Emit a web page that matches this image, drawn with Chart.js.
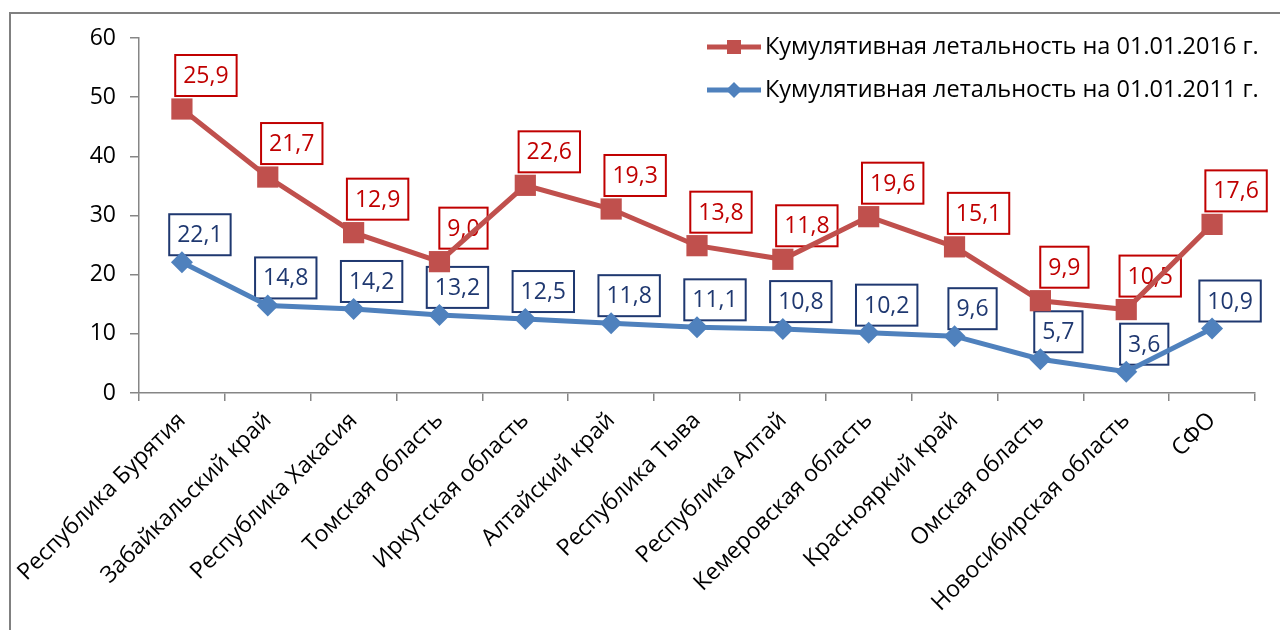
<!DOCTYPE html>
<html>
<head>
<meta charset="utf-8">
<script src="https://cdn.jsdelivr.net/npm/chart.js@4/dist/chart.umd.min.js"></script>
<style>
  body { margin: 0; background: #fff; }
  #wrap { width: 1280px; height: 630px; position: relative; }
</style>
</head>
<body>
<div id="wrap"><canvas id="chart" width="1280" height="630"></canvas></div>
<script>
// regions of the Siberian federal district (spelling as in the source)
const regions = ['Республика Бурятия', 'Забайкальский край', 'Республика Хакасия', 'Томская область',
  'Иркутская область', 'Алтайский край', 'Республика Тыва', 'Республика Алтай', 'Кемеровская область',
  'Краснояркий край', 'Омская область', 'Новосибирская область', 'СФО'];

// lethality on 01.01.2011 (bottom line)
const leth2011 = [22.1, 14.8, 14.2, 13.2, 12.5, 11.8, 11.1, 10.8, 10.2, 9.6, 5.7, 3.6, 10.9];
// increment up to 01.01.2016 (stacked on top of 2011, like the excel stacked line)
const leth2016 = [25.9, 21.7, 12.9, 9.0, 22.6, 19.3, 13.8, 11.8, 19.6, 15.1, 9.9, 10.5, 17.6];

const yTicks = [0, 10, 20, 30, 40, 50, 60];

const FONT = '"Open Sans", sans-serif';
const RED = '#C0504D', BLUE = '#4F81BD';
const RED_LBL = '#C00000', BLUE_LBL = '#1F3870';

const fmt = v => v.toFixed(1).replace('.', ',');

// boxed value labels, drawn under the lines
const boxLabels = {
    id: 'boxLabels',
    beforeDatasetsDraw(chart) {
        const ctx = chart.ctx;
        ctx.save();
        ctx.font = '23px ' + FONT;
        ctx.textAlign = 'center';
        ctx.textBaseline = 'middle';
        chart.data.datasets.forEach((ds, i) => {
            const meta = chart.getDatasetMeta(i);
            meta.data.forEach((pt, j) => {
                const txt = fmt(ds.data[j]);
                const w = ctx.measureText(txt).width + 16;
                const h = 41;
                const cx = pt.x + ds.labelDx;
                const top = pt.y - ds.labelGap - h;
                ctx.fillStyle = '#fff';
                ctx.fillRect(cx - w / 2, top, w, h);
                ctx.strokeStyle = ds.labelColor;
                ctx.lineWidth = 2;
                ctx.strokeRect(cx - w / 2, top, w, h);
                ctx.fillStyle = ds.labelColor;
                ctx.fillText(txt, cx, top + h / 2 + 1);
            });
        });
        ctx.restore();
    }
};

// frame + legend in the top right corner
const decor = {
    id: 'decor',
    beforeDraw(chart) {
        const ctx = chart.ctx;
        ctx.save();
        ctx.strokeStyle = '#808080';
        ctx.lineWidth = 2;
        ctx.beginPath();
        ctx.moveTo(10, 630);
        ctx.lineTo(10, 13);
        ctx.lineTo(1280, 13);
        ctx.stroke();
        ctx.restore();
    },
    afterDraw(chart) {
        const ctx = chart.ctx;
        const rows = [1, 0]; // 2016 first, then 2011
        ctx.save();
        ctx.font = '23.5px ' + FONT;
        ctx.textBaseline = 'middle';
        ctx.textAlign = 'left';
        rows.forEach((di, r) => {
            const ds = chart.data.datasets[di];
            const y = 47 + r * 43;
            ctx.strokeStyle = ds.borderColor;
            ctx.lineWidth = 5;
            ctx.beginPath();
            ctx.moveTo(707, y);
            ctx.lineTo(761, y);
            ctx.stroke();
            ctx.fillStyle = ds.borderColor;
            ctx.beginPath();
            if (ds.pointStyle === 'rect') {
                ctx.rect(727, y - 7, 14, 14);
            } else {
                ctx.moveTo(734, y - 8); ctx.lineTo(742, y); ctx.lineTo(734, y + 8); ctx.lineTo(726, y);
                ctx.closePath();
            }
            ctx.fill();
            ctx.fillStyle = '#000';
            ctx.fillText(ds.label, 765, y);
        });
        ctx.restore();
    }
};

new Chart(document.getElementById('chart'), {
    type: 'line',
    data: {
        labels: regions,
        datasets: [
            {
                label: 'Кумулятивная летальность на 01.01.2011 г.',
                data: leth2011,
                borderColor: BLUE,
                backgroundColor: BLUE,
                borderWidth: 5,
                pointStyle: 'rectRot',
                pointRadius: 11,
                pointBorderWidth: 0,
                labelColor: BLUE_LBL,
                labelDx: 18,
                labelGap: 7,
                tension: 0
            },
            {
                label: 'Кумулятивная летальность на 01.01.2016 г.',
                data: leth2016,
                borderColor: RED,
                backgroundColor: RED,
                borderWidth: 5,
                pointStyle: 'rect',
                pointRadius: 15,
                pointBorderWidth: 0,
                labelColor: RED_LBL,
                labelDx: 24,
                labelGap: 13,
                tension: 0
            }
        ]
    },
    options: {
        responsive: false,
        animation: false,
        layout: { padding: { left: 0, top: 38, right: 25, bottom: 0 } },
        plugins: {
            legend: { display: false },
            tooltip: { enabled: false }
        },
        scales: {
            x: {
                offset: true,
                grid: { offset: true, drawOnChartArea: false, color: '#868686', tickLength: 8, lineWidth: 1.5 },
                border: { color: '#868686', width: 1.5 },
                ticks: {
                    color: '#000',
                    font: { family: FONT, size: 23 },
                    minRotation: 45,
                    maxRotation: 45,
                    autoSkip: false,
                    padding: 6
                },
                afterFit(scale) { scale.height = 237; }
            },
            y: {
                stacked: true,
                min: 0,
                max: 60,
                afterBuildTicks(scale) { scale.ticks = yTicks.map(v => ({ value: v })); },
                grid: { drawOnChartArea: false, color: '#868686', tickLength: 9, lineWidth: 1.5 },
                border: { color: '#868686', width: 1.5 },
                ticks: {
                    color: '#000',
                    font: { family: FONT, size: 23 },
                    padding: 14
                },
                afterFit(scale) { scale.width = 139; }
            }
        }
    },
    plugins: [boxLabels, decor]
});
</script>
</body>
</html>
